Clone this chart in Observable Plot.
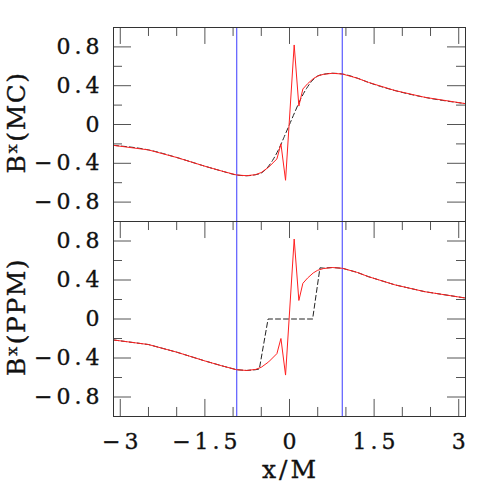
<!DOCTYPE html>
<html><head><meta charset="utf-8">
<script src="https://cdn.jsdelivr.net/npm/d3@7"></script>
<script src="https://cdn.jsdelivr.net/npm/@observablehq/plot@0.6"></script>
<style>
body{margin:0;background:#fff}
#chart{width:491px;height:491px;position:relative;overflow:hidden}
#chart svg{display:block}
#chart svg.bottom{margin-top:-2px}
#chart text{letter-spacing:4px}
</style>
</head><body><div id="chart"></div>
<script>
// x-axis domain and ticks
const xDomain = [-3.12, 3.12];
const yDomain = [-1, 1];
const xMajor = [-3, -1.5, 0, 1.5, 3];
const xMajorLabels = ["\u22123", "\u22121.5", "0", "1.5", "3"];
const xMinor = [-2.5, -2, -1, -0.5, 0.5, 1, 2, 2.5];
const yMajor = [-0.8, -0.4, 0, 0.4, 0.8];
const yMajorLabels = ["\u22120.8", "\u22120.4", "0", "0.4", "0.8"];
const yMinor = [-0.6, -0.2, 0.2, 0.6];
const xTitle = "x/M";
const yTitles = ["B\u02E3(MC)", "B\u02E3(PPM)"];

// vertical blue markers
const markerX = [-0.935, 0.935];

// exact solution (dashed, top panel)
const exactX = [-3.12, -2.5, -2.0, -1.5, -1.2, -0.94, -0.76, -0.6, -0.5, -0.4, -0.3, -0.2, -0.1, 0, 0.1, 0.2, 0.3, 0.4, 0.5, 0.6, 0.76, 0.94, 1.2, 1.4, 1.87, 2.4, 3.12];
const exactY = [-0.215, -0.262, -0.34, -0.43, -0.48, -0.52, -0.528, -0.517, -0.5, -0.45, -0.37, -0.265, -0.135, 0, 0.135, 0.265, 0.37, 0.45, 0.5, 0.517, 0.528, 0.52, 0.478, 0.434, 0.35, 0.28, 0.215];

// numerical solution (red, both panels)
const numX = [-3.12, -2.5, -2.0, -1.5, -1.2, -0.94, -0.76, -0.6, -0.5, -0.37, -0.223, -0.152, -0.07, 0.083, 0.166, 0.237, 0.32, 0.42, 0.5, 0.6, 0.76, 0.94, 1.2, 1.4, 1.87, 2.4, 3.12];
const numY = [-0.215, -0.262, -0.34, -0.43, -0.48, -0.52, -0.528, -0.517, -0.495, -0.44, -0.355, -0.2, -0.575, 0.82, 0.19, 0.366, 0.42, 0.472, 0.5, 0.517, 0.528, 0.52, 0.478, 0.434, 0.35, 0.28, 0.215];

// PPM reconstruction (dashed, bottom panel)
const ppmX = [-3.12, -2.5, -2.0, -1.5, -1.2, -0.94, -0.76, -0.6, -0.535, -0.38, 0.41, 0.54, 0.6, 0.76, 0.94, 1.2, 1.4, 1.87, 2.4, 3.12];
const ppmY = [-0.215, -0.262, -0.34, -0.43, -0.48, -0.52, -0.528, -0.52, -0.513, 0, 0, 0.525, 0.522, 0.528, 0.52, 0.478, 0.434, 0.35, 0.28, 0.215];

const toRows = (xs, ys) => xs.map((x, i) => ({x, y: ys[i]}));
const exact = toRows(exactX, exactY);
const num = toRows(numX, numY);
const ppm = toRows(ppmX, ppmY);

const W = 491, mL = 113, mR = 26;
const xPerPx = (xDomain[1] - xDomain[0]) / (W - mL - mR);
const yPerPx = (yDomain[1] - yDomain[0]) / 194.5;
const tickColor = "#555";
const txt = {fill: "#111", stroke: "#111", strokeWidth: 0.35};

function panel({dashed, dashedCurve, label, bottom}) {
  const marks = [
    Plot.line(dashed, {x: "x", y: "y", stroke: "#222", strokeWidth: 1, strokeDasharray: "5,3", curve: dashedCurve}),
    Plot.ruleX(markerX, {x: d => d, y1: yDomain[0], y2: yDomain[1], stroke: "#3a3aff", strokeWidth: 1}),
    Plot.line(num, {x: "x", y: "y", stroke: "#ff2020", strokeWidth: 1}),
    // top edge ticks
    Plot.ruleX(xMajor, {x: d => d, y1: yDomain[1], y2: yDomain[1] - 17 * yPerPx, stroke: tickColor}),
    Plot.ruleX(xMinor, {x: d => d, y1: yDomain[1], y2: yDomain[1] - 9 * yPerPx, stroke: tickColor}),
    // left & right ticks
    Plot.ruleY(yMajor, {y: d => d, x1: xDomain[0], x2: xDomain[0] + 18 * xPerPx, stroke: tickColor}),
    Plot.ruleY(yMinor, {y: d => d, x1: xDomain[0], x2: xDomain[0] + 9 * xPerPx, stroke: tickColor}),
    Plot.ruleY(yMajor, {y: d => d, x1: xDomain[1], x2: xDomain[1] - 18 * xPerPx, stroke: tickColor}),
    Plot.ruleY(yMinor, {y: d => d, x1: xDomain[1], x2: xDomain[1] - 9 * xPerPx, stroke: tickColor}),
    Plot.text(yMajor, {x: xDomain[0], y: d => d, text: (d, i) => yMajorLabels[i], textAnchor: "end", dx: -10, fontSize: 22, ...txt}),
    Plot.text([label], {frameAnchor: "left", textAnchor: "middle", dx: -97, dy: -2, rotate: -90, fontSize: 25, ...txt}),
    Plot.frame({stroke: "#333", strokeWidth: 1})
  ];
  if (bottom) {
    marks.push(
      Plot.ruleX(xMajor, {x: d => d, y1: yDomain[0], y2: yDomain[0] + 17 * yPerPx, stroke: tickColor}),
      Plot.ruleX(xMinor, {x: d => d, y1: yDomain[0], y2: yDomain[0] + 9 * yPerPx, stroke: tickColor}),
      Plot.text(xMajor, {x: d => d, y: yDomain[0], text: (d, i) => xMajorLabels[i], dy: 25, dx: 2, fontSize: 22, ...txt}),
      Plot.text([xTitle], {frameAnchor: "bottom", textAnchor: "middle", dy: 61, dx: 1, fontSize: 25, ...txt})
    );
  }
  const svg = Plot.plot({
    width: W,
    height: bottom ? 271 : 222,
    marginLeft: mL, marginRight: mR,
    marginTop: bottom ? 1 : 27,
    marginBottom: bottom ? 75 : 1,
    x: {domain: xDomain, axis: null},
    y: {domain: yDomain, axis: null},
    style: {fontFamily: "'DejaVu Serif', serif", background: "white", overflow: "visible"},
    marks
  });
  if (bottom) svg.classList.add("bottom");
  // titles get tighter letter spacing than tick labels
  d3.select(svg).selectAll("text").each(function() {
    const t = this.textContent;
    if (t === label) this.style.letterSpacing = "1.5px";
    if (t === xTitle) this.style.letterSpacing = "3px";
  });
  return svg;
}

const chart = document.getElementById("chart");
chart.appendChild(panel({dashed: exact, dashedCurve: "monotone-x", label: yTitles[0], bottom: false}));
chart.appendChild(panel({dashed: ppm, dashedCurve: "linear", label: yTitles[1], bottom: true}));
</script>
</body></html>
